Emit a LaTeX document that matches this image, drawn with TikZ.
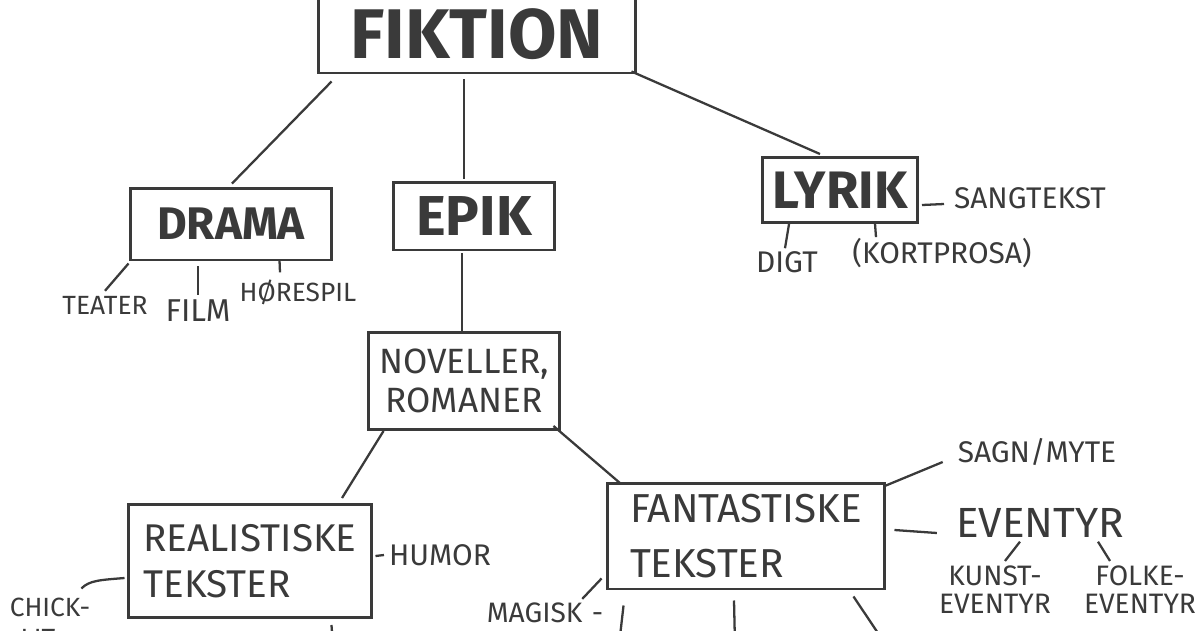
\documentclass[tikz,border=0pt]{standalone}
\usepackage{fontspec}
\setmainfont{Fira Sans}
\usepackage{xcolor}
\usetikzlibrary{calc}
\definecolor{ink}{HTML}{3A3A3A}

\begin{document}
\begin{tikzpicture}[x=0.02cm,y=-0.02cm,draw=ink,text=ink,line width=1.3pt,
	box/.style={draw,line width=1.7pt,inner sep=0pt,align=center},
	head/.style={font=\fontsize{#1}{#1}\selectfont\bfseries},
	lbl/.style={inner sep=0pt,align=center,font=\fontsize{#1}{#1}\selectfont}]
	\useasboundingbox (0,0) rectangle (1200,630);
	\clip (0,0) rectangle (1200,630);
	\node[box,head=40,minimum width=6.36cm,minimum height=1.56cm] (fiktion) at (477,34) {FIKTION};
	\node[box,head=26,minimum width=4.04cm,minimum height=1.44cm] (drama) at (231,224) {DRAMA};
	\node[box,head=32,minimum width=3.24cm,minimum height=1.36cm] (epik) at (474,216) {EPIK};
	\node[box,head=30,minimum width=3.1cm,minimum height=1.3cm] (lyrik) at (840,190) {LYRIK};
	\node[box,lbl=20,minimum width=3.84cm,minimum height=1.94cm] (novel) at (464,381) {NOVELLER,\\[2pt]ROMANER};
	\node[box,lbl=22,align=left,minimum width=4.88cm,minimum height=2.26cm] (real) at (250,561) {REALISTISKE\\[4pt]TEKSTER};
	\node[box,lbl=23,align=left,minimum width=5.56cm,minimum height=2.12cm] (fant) at (746,536) {FANTASTISKE\\[8pt]TEKSTER};
	\node[lbl=15] (teater) at (105,305) {TEATER};
	\node[lbl=18] (film) at (198,311) {FILM};
	\node[lbl=15] (horespil) at (298,292) {HØRESPIL};
	\node[lbl=17] (sangtekst) at (1030,198) {SANGTEKST};
	\node[lbl=17] (digt) at (787,262) {DIGT};
	\node[lbl=17] (kortprosa) at (942,253) {(KORTPROSA)};
	\node[lbl=17] (humor) at (440,555) {HUMOR};
	\node[lbl=15] (chick) at (50,607) {CHICK-};
	\node[lbl=15] (lit) at (38,638) {LIT};
	\node[lbl=17] (sagn) at (1037,452) {SAGN/MYTE};
	\node[lbl=24] (eventyr) at (1040,523) {EVENTYR};
	\node[lbl=16] (kunst) at (995,590) {KUNST-\\EVENTYR};
	\node[lbl=16] (folke) at (1140,590) {FOLKE-\\EVENTYR};
	\node[lbl=16] (magisk) at (545,613) {MAGISK\,\,-};
	\coordinate (realcut) at (333,645);
	\coordinate (magcut) at (619,645);
	\coordinate (midcut) at (735,645);
	\coordinate (rightcut) at (886,645);
	\draw ($(fiktion.south west)+(15,7)$) -- ($(drama.north)+(1,-3)$);
	\draw ($(fiktion.south)+(-13,5)$) -- ($(epik.north)+(-10,-2)$);
	\draw ($(fiktion.south east)+(-6,-3)$) -- ($(lyrik.north)+(-20,-2)$);
	\draw ($(drama.south west)+(0,2)$) -- ($(teater.north)+(0,-4)$);
	\draw ($(drama.south)+(-33,5)$) -- ($(film.north)+(0,-4)$);
	\draw ($(drama.south east)+(-54,-2)$) -- ($(horespil.north)+(-18,-6)$);
	\draw ($(lyrik.east)+(3,15)$) -- ($(sangtekst.west)+(-9,6)$);
	\draw ($(lyrik.south west)+(28,0)$) -- ($(digt.north)+(-2,-2)$);
	\draw ($(lyrik.south west)+(114,0)$) -- ($(kortprosa.north)+(-66,0)$);
	\draw ($(epik.south)+(-12,2)$) -- ($(novel.north)+(-2,0)$);
	\draw ($(novel.south west)+(17,0)$) -- ($(real.north)+(92,-5)$);
	\draw ($(novel.south east)+(-8,-5)$) -- ($(fant.north west)+(15,2)$);
	\draw ($(real.east)+(2,-5)$) -- ($(humor.west)+(-4,0)$);
	\draw ($(real.west)+(-2,17)$) .. controls +(-25,2) and +(8,-8) .. ($(chick.north east)+(-10,-8)$);
	\draw ($(real.south east)+(-42,6)$) -- (realcut);
	\draw ($(fant.north east)+(-3,5)$) -- ($(sagn.west)+(-14,10)$);
	\draw ($(fant.east)+(8,-6)$) -- ($(eventyr.west)+(-18,10)$);
	\draw ($(eventyr.south)+(-20,3)$) -- ($(kunst.north)+(10,-4)$);
	\draw ($(eventyr.south)+(58,3)$) -- ($(folke.north)+(-30,-4)$);
	\draw ($(fant.south west)+(-4,-12)$) -- ($(magisk.north east)+(-22,-3)$);
	\draw ($(fant.south west)+(18,15)$) -- (magcut);
	\draw ($(fant.south)+(-12,10)$) -- (midcut);
	\draw ($(fant.south east)+(-33,6)$) -- (rightcut);
\end{tikzpicture}
\end{document}
